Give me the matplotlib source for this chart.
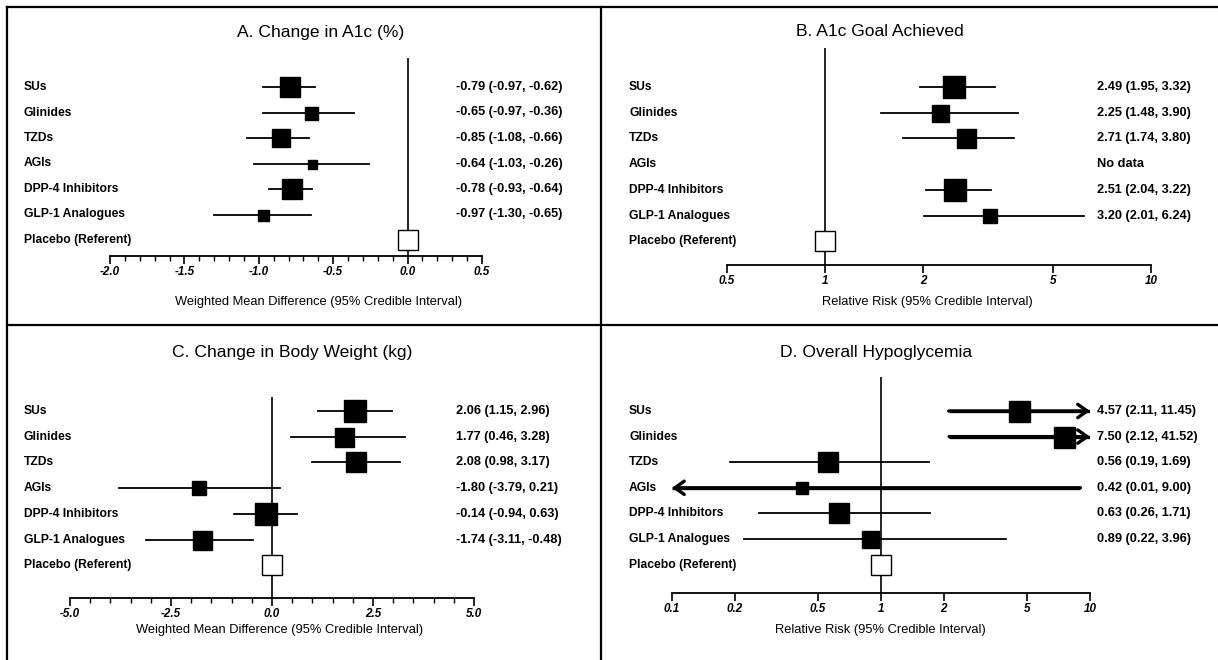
import numpy as np
import matplotlib
matplotlib.use('Agg')
import matplotlib.pyplot as plt
from matplotlib.lines import Line2D
from matplotlib.ticker import NullLocator, NullFormatter, FixedLocator
from matplotlib.transforms import blended_transform_factory

plt.rcParams['font.family'] = ['Liberation Sans', 'DejaVu Sans']

# treatment rows (placebo is the referent, drawn last)
drugs = ['SUs', 'Glinides', 'TZDs', 'AGIs', 'DPP-4 Inhibitors', 'GLP-1 Analogues']
ref_label = 'Placebo (Referent)'

# A. change in A1c (%)
a1c_est = [-0.79, -0.65, -0.85, -0.64, -0.78, -0.97]
a1c_lo = [-0.97, -0.97, -1.08, -1.03, -0.93, -1.30]
a1c_hi = [-0.62, -0.36, -0.66, -0.26, -0.64, -0.65]
a1c_box = [20, 13, 18, 9, 20, 11]          # square side in px (study weight)

# B. A1c goal achieved (RR), AGIs has no data
goal_est = [2.49, 2.25, 2.71, np.nan, 2.51, 3.20]
goal_lo = [1.95, 1.48, 1.74, np.nan, 2.04, 2.01]
goal_hi = [3.32, 3.90, 3.80, np.nan, 3.22, 6.24]
goal_box = [22, 17, 19, 0, 23, 14]

# C. change in body weight (kg)
wt_est = [2.06, 1.77, 2.08, -1.80, -0.14, -1.74]
wt_lo = [1.15, 0.46, 0.98, -3.79, -0.94, -3.11]
wt_hi = [2.96, 3.28, 3.17, 0.21, 0.63, -0.48]
wt_box = [22, 19, 20, 14, 22, 19]

# D. overall hypoglycemia (RR)
hypo_est = [4.57, 7.50, 0.56, 0.42, 0.63, 0.89]
hypo_lo = [2.11, 2.12, 0.19, 0.01, 0.26, 0.22]
hypo_hi = [11.45, 41.52, 1.69, 9.00, 1.71, 3.96]
hypo_box = [21, 21, 20, 12, 20, 17]

W, H = 1218, 660
fig = plt.figure(figsize=(W / 100, H / 100), dpi=100)
PT = 0.72  # px -> pt


def fx(x):
    return x / W


def fy(y):
    return 1 - y / H


def forest(box, row0, pitch, xlim, ref, log, est, lo, hi, sizes,
           title, title_xy, xlabel, xlabel_xy, label_x, value_x,
           major, ticklabels, minor=None):
    l, t, r, b = box
    ax = fig.add_axes([fx(l), fy(b), (r - l) / W, (b - t) / H])
    if log:
        ax.set_xscale('log')
    ax.set_xlim(*xlim)
    ax.set_ylim((b - row0) / pitch, (t - row0) / pitch)

    ax.axvline(ref, color='k', lw=1.2, zorder=1)
    for i in range(len(drugs)):
        e, lo_i, hi_i = est[i], lo[i], hi[i]
        if np.isnan(e):
            continue
        over = hi_i > xlim[1]
        under = lo_i < xlim[0]
        if over or under:
            # interval runs off the axis: thick line with an arrow head
            a = max(lo_i, xlim[0])
            c = min(hi_i, xlim[1])
            ax.plot([a, c], [i, i], color='k', lw=2.4, zorder=2,
                    solid_capstyle='butt')
            style = '->,head_length=0.45,head_width=0.32'
            props = dict(arrowstyle=style, lw=2.4, color='k',
                         mutation_scale=15, shrinkA=0, shrinkB=0)
            if over:
                ax.annotate('', xy=(c, i), xytext=(a, i), arrowprops=props)
            if under:
                ax.annotate('', xy=(a, i), xytext=(c, i), arrowprops=props)
        else:
            ax.plot([lo_i, hi_i], [i, i], color='k', lw=1.3, zorder=2)
        ax.plot(e, i, marker='s', ms=sizes[i] * PT, color='k', mec='k', zorder=3)
    # placebo referent
    ax.plot(ref, len(drugs), marker='s', ms=20 * PT, mfc='white', mec='k',
            mew=1.0, zorder=3)

    for s in ['top', 'right', 'left']:
        ax.spines[s].set_visible(False)
    ax.spines['bottom'].set_linewidth(1.3)
    ax.set_yticks([])
    ax.xaxis.set_major_locator(FixedLocator(major))
    ax.set_xticklabels(ticklabels, fontsize=8.4, fontweight='bold', fontstyle='italic')
    if minor is not None:
        ax.xaxis.set_minor_locator(FixedLocator(minor))
    else:
        ax.xaxis.set_minor_locator(NullLocator())
    ax.xaxis.set_minor_formatter(NullFormatter())
    ax.tick_params(axis='x', which='major', length=6, width=1.2, pad=1.5)
    ax.tick_params(axis='x', which='minor', length=3.5, width=1.0)

    # row labels and value text
    tr = blended_transform_factory(fig.transFigure, ax.transData)
    for i, name in enumerate(drugs + [ref_label]):
        ax.text(fx(label_x), i, name, transform=tr, fontsize=8.7,
                fontweight='bold', va='center', ha='left')
    for i in range(len(drugs)):
        if np.isnan(est[i]):
            txt = 'No data'
        else:
            txt = f'{est[i]:.2f} ({lo[i]:.2f}, {hi[i]:.2f})'
        ax.text(fx(value_x), i, txt, transform=tr, fontsize=9.2,
                fontweight='bold', va='center', ha='left')
    fig.text(fx(title_xy[0]), fy(title_xy[1]), title, fontsize=12.6,
             ha='center', va='center')
    fig.text(fx(xlabel_xy[0]), fy(xlabel_xy[1]), xlabel, fontsize=9.3,
             ha='center', va='center')
    return ax


forest((110, 58, 482, 256), 87, 25.5, (-2.0, 0.5), 0.0, False,
       a1c_est, a1c_lo, a1c_hi, a1c_box,
       'A. Change in A1c (%)', (321, 33),
       'Weighted Mean Difference (95% Credible Interval)', (319, 302),
       24, 456, [-2.0, -1.5, -1.0, -0.5, 0.0, 0.5],
       ['-2.0', '-1.5', '-1.0', '-0.5', '0.0', '0.5'],
       minor=np.arange(-2.0, 0.51, 0.1))
forest((727, 48, 1151, 265), 87, 25.7, (0.5, 10), 1.0, True,
       goal_est, goal_lo, goal_hi, goal_box,
       'B. A1c Goal Achieved', (880, 32),
       'Relative Risk (95% Credible Interval)', (927, 302),
       629, 1097, [0.5, 1, 2, 5, 10],
       ['0.5', '1', '2', '5', '10'])
forest((70, 397, 474, 598), 411, 25.7, (-5.0, 5.0), 0.0, False,
       wt_est, wt_lo, wt_hi, wt_box,
       'C. Change in Body Weight (kg)', (292, 353),
       'Weighted Mean Difference (95% Credible Interval)', (280, 630),
       24, 456, [-5.0, -2.5, 0.0, 2.5, 5.0],
       ['-5.0', '-2.5', '0.0', '2.5', '5.0'],
       minor=np.arange(-5.0, 5.01, 0.5))
forest((672, 377, 1090, 593), 411, 25.6, (0.1, 10), 1.0, True,
       hypo_est, hypo_lo, hypo_hi, hypo_box,
       'D. Overall Hypoglycemia', (876, 353),
       'Relative Risk (95% Credible Interval)', (880, 630),
       629, 1097, [0.1, 0.2, 0.5, 1, 2, 5, 10],
       ['0.1', '0.2', '0.5', '1', '2', '5', '10'])

# panel frame lines
lw = 1.6
fig.add_artist(Line2D([fx(7), fx(W)], [fy(7), fy(7)], color='k', lw=lw))
fig.add_artist(Line2D([fx(7), fx(W)], [fy(325), fy(325)], color='k', lw=lw))
fig.add_artist(Line2D([fx(7), fx(7)], [fy(7), fy(H)], color='k', lw=lw))
fig.add_artist(Line2D([fx(601), fx(601)], [fy(7), fy(H)], color='k', lw=lw))

fig.savefig('out.png', dpi=100)
